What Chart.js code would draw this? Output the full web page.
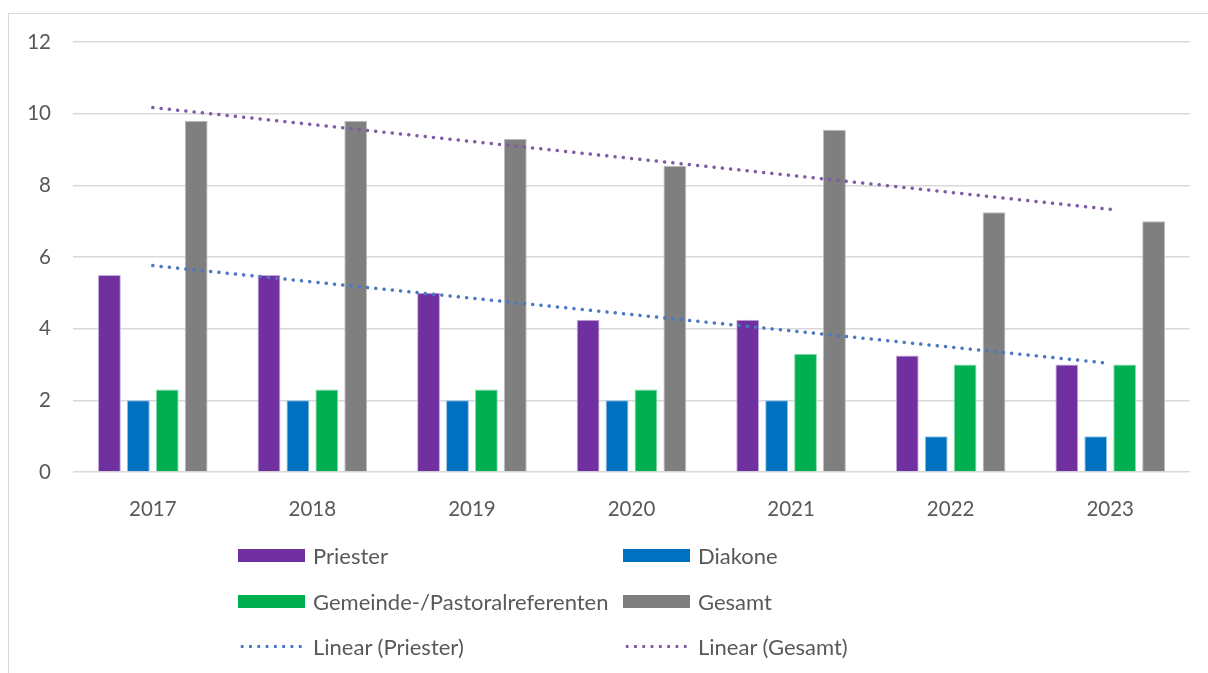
<!DOCTYPE html>
<html>
<head>
<meta charset="utf-8">
<script src="https://cdn.jsdelivr.net/npm/chart.js@4/dist/chart.umd.min.js"></script>
<style>
  html, body { margin: 0; padding: 0; background: #fff; }
  #wrap { position: relative; width: 1208px; height: 673px; overflow: hidden; }
  #frame { position: absolute; left: 8px; top: 13px; width: 1220px; height: 680px; border: 1.5px solid #d9d9d9; box-sizing: border-box; }
  #myChart { position: absolute; left: 0; top: 0; }
  #legend { position: absolute; left: 0; top: 0; font-family: Lato, sans-serif; font-size: 22px; color: #595959; }
  .item { position: absolute; display: flex; align-items: center; height: 26px; white-space: nowrap; }
  .box { width: 67px; height: 13px; margin-right: 8px; }
  .dots { width: 67px; height: 3px; margin-right: 8px; }
</style>
</head>
<body>
<div id="wrap">
  <div id="frame"></div>
  <canvas id="myChart"></canvas>
  <div id="legend"></div>
</div>
<script>
// data
const years = ['2017', '2018', '2019', '2020', '2021', '2022', '2023'];
const priester = [5.5, 5.5, 5, 4.25, 4.25, 3.25, 3];
const diakone = [2, 2, 2, 2, 2, 1, 1];
const referenten = [2.3, 2.3, 2.3, 2.3, 3.3, 3, 3];
const gesamt = [9.8, 9.8, 9.3, 8.55, 9.55, 7.25, 7];
// trend lines: only the two ends, straight line between them
const linPriester = [5.76, null, null, null, null, null, 3.03];
const linGesamt = [10.17, null, null, null, null, null, 7.33];
const yTicks = [0, 2, 4, 6, 8, 10, 12];

window.addEventListener('DOMContentLoaded', () => {
    var ctx = document.getElementById('myChart').getContext('2d');
    ctx.canvas.width = 1208;
    ctx.canvas.height = 673;

    function bar(label, data, color, edge) {
        return {
            type: 'bar', label: label, data: data,
            backgroundColor: color, borderColor: edge, borderWidth: 1,
            categoryPercentage: 0.725, barPercentage: 0.79, order: 1
        };
    }
    function trend(label, data, color) {
        return {
            type: 'line', label: label, data: data, spanGaps: true,
            borderColor: color, borderWidth: 3.5, borderDash: [0.1, 8.2],
            borderCapStyle: 'round', pointRadius: 0, fill: false, order: 0
        };
    }

    var myChart = new Chart(ctx, {
        data: {
            labels: years,
            datasets: [
                bar('Priester', priester, '#7030A0', '#c5a9dc'),
                bar('Diakone', diakone, '#0070C0', '#8fc0e6'),
                bar('Gemeinde-/Pastoralreferenten', referenten, '#00B050', '#8fdcae'),
                bar('Gesamt', gesamt, '#7F7F7F', '#bdbdbd'),
                trend('Linear (Priester)', linPriester, '#4A78C2'),
                trend('Linear (Gesamt)', linGesamt, '#7E5BA6')
            ]
        },
        options: {
            responsive: false,
            animation: false,
            layout: { padding: { top: 42, right: 18, left: 0, bottom: 0 } },
            plugins: { legend: { display: false }, tooltip: { enabled: false } },
            scales: {
                x: {
                    grid: { display: false },
                    border: { display: false },
                    ticks: { color: '#595959', font: { family: 'Lato', size: 20.5 }, padding: 17 },
                    afterFit: (s) => { s.height = 201; }
                },
                y: {
                    min: 0, max: 12,
                    afterBuildTicks: (s) => { s.ticks = yTicks.map(v => ({ value: v })); },
                    grid: { color: '#d9d9d9', lineWidth: 1.5, drawTicks: false },
                    border: { display: false },
                    ticks: { color: '#595959', font: { family: 'Lato', size: 20.5 }, padding: 22 },
                    afterFit: (s) => { s.width = 73; }
                }
            }
        }
    });

    // legend in two columns, built from the datasets
    const legend = document.getElementById('legend');
    const cols = [238, 623];
    const rows = [555, 601, 646];
    myChart.data.datasets.forEach((ds, i) => {
        const item = document.createElement('div');
        item.className = 'item';
        item.style.left = cols[i % 2] + 'px';
        item.style.top = (rows[Math.floor(i / 2)] - 13) + 'px';
        const mark = document.createElement('span');
        if (ds.type === 'bar') {
            mark.className = 'box';
            mark.style.background = ds.backgroundColor;
        } else {
            mark.className = 'dots';
            mark.style.backgroundImage = 'radial-gradient(circle, ' + ds.borderColor + ' 1.4px, transparent 1.8px)';
            mark.style.backgroundSize = '8.3px 3px';
        }
        const txt = document.createElement('span');
        txt.textContent = ds.label;
        item.appendChild(mark);
        item.appendChild(txt);
        legend.appendChild(item);
    });
});
</script>
</body>
</html>
